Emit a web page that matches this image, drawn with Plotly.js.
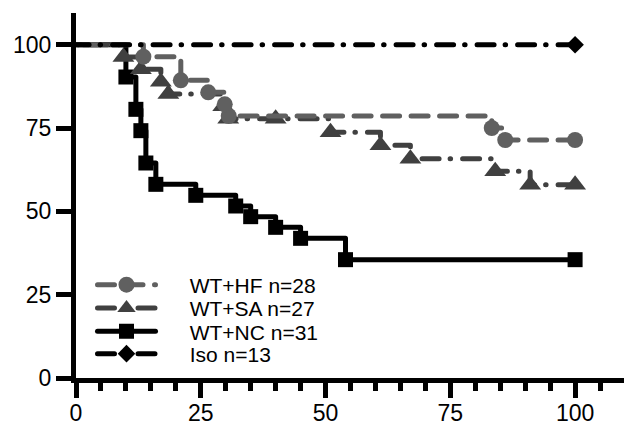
<!DOCTYPE html>
<html><head><meta charset="utf-8">
<script src="https://cdn.plot.ly/plotly-3.0.1.min.js"></script>
<style>
html,body{margin:0;padding:0;background:#fff;}
#chart{width:624px;height:425px;}
.js-line{stroke-linecap:round;stroke-linejoin:round;}
</style></head><body><div id="chart"></div>
<script>
// ---- data ----
const groupNames = ['WT+HF n=28', 'WT+SA n=27', 'WT+NC n=31', 'Iso n=13'];
const hfDays = [0, 13.5, 21, 26.5, 29.8, 30.6, 83.3, 86, 100];
const hfSurvival = [100, 96.4, 89.3, 85.7, 82.1, 78.6, 75.0, 71.4, 71.4];
const saDays = [0, 9.5, 13, 17, 18.5, 29.5, 30.5, 40, 51, 61, 67, 84, 91, 100];
const saSurvival = [100, 96.3, 92.6, 88.9, 85.2, 81.5, 77.8, 77.8, 73.7, 69.8, 65.8, 62.0, 58.0, 58.0];
const ncDays = [0, 10, 12, 13, 14, 16, 24, 32, 35, 40, 45, 54, 100];
const ncSurvival = [100, 90.3, 80.6, 74.2, 64.5, 58.1, 54.8, 51.6, 48.4, 45.2, 41.9, 35.5, 35.5];
const isoDays = [0, 100];
const isoSurvival = [100, 100];
const xTickVals = [0, 25, 50, 75, 100];
const yTickVals = [0, 25, 50, 75, 100];

const FONT = 'Liberation Sans, Arial, Helvetica, sans-serif';
const PAD = '\u00A0\u00A0\u00A0\u00A0\u00A0';   // gap between legend symbol and label

// Kaplan-Meier step trace; arrays reversed so the hidden start point (t=0) is last
function kmTrace(days, surv, name, color, dash, symbol, size, legendId) {
  const x = days.slice().reverse();
  const y = surv.slice().reverse();
  const sel = x.map((v, i) => i).filter(i => i < x.length - 1);
  return {
    type: 'scatter', mode: 'lines+markers', x: x, y: y, name: PAD + name, legend: legendId,
    line: {shape: 'vh', color: color, width: 5, dash: dash},
    marker: {symbol: symbol, size: size, color: color, line: {width: 0}},
    selectedpoints: sel,
    selected: {marker: {opacity: 1}},
    unselected: {marker: {opacity: 0}},
    hoverinfo: 'skip', cliponaxis: false
  };
}

const dashDot = '17px,12px,0.5px,11px';
const traces = [
  kmTrace(ncDays, ncSurvival, groupNames[2], '#000000', 'solid', 'square', 15, 'legend3'),
  kmTrace(saDays, saSurvival, groupNames[1], '#404040', dashDot, 'triangle-up', 19, 'legend2'),
  kmTrace(hfDays, hfSurvival, groupNames[0], '#606060', '17px,11.5px', 'circle', 16, 'legend'),
  kmTrace(isoDays, isoSurvival, groupNames[3], '#000000', dashDot, 'diamond', 13.5, 'legend4')
];

const L = 76, T = 13, W = 548, H = 365;
function leg(yPx) {
  return {
    x: (92.5 - L) / W, xanchor: 'left', y: (T + H - yPx) / H, yanchor: 'middle',
    bgcolor: 'rgba(0,0,0,0)', borderwidth: 0, itemwidth: 58,
    font: {family: FONT, size: 21, color: '#000'}
  };
}

const layout = {
  width: 624, height: 425,
  margin: {l: L, r: 0, t: T, b: 425 - T - H, pad: 0},
  paper_bgcolor: '#fff', plot_bgcolor: '#fff',
  showlegend: true,
  legend: leg(285), legend2: leg(308.3), legend3: leg(331.7), legend4: leg(354),
  xaxis: {
    range: [0, 109.8], showgrid: false, zeroline: false,
    showline: true, linewidth: 5, linecolor: '#000',
    tickmode: 'array', tickvals: xTickVals, ticktext: xTickVals.map(String),
    ticks: 'outside', ticklen: 15, tickwidth: 5, tickcolor: '#000',
    ticklabelstandoff: -5,
    tickfont: {family: FONT, size: 23, color: '#000'},
    minor: {dtick: 5, tick0: 0, ticks: 'outside', ticklen: 8, tickwidth: 5, tickcolor: '#000', showgrid: false}
  },
  yaxis: {
    range: [0, 109.5], showgrid: false, zeroline: false,
    showline: true, linewidth: 5, linecolor: '#000',
    tickmode: 'array', tickvals: yTickVals, ticktext: yTickVals.map(String),
    ticks: 'outside', ticklen: 15, tickwidth: 5, tickcolor: '#000',
    tickfont: {family: FONT, size: 23, color: '#000'}
  }
};

Plotly.newPlot('chart', traces, layout, {staticPlot: true, displayModeBar: false});
</script></body></html>
